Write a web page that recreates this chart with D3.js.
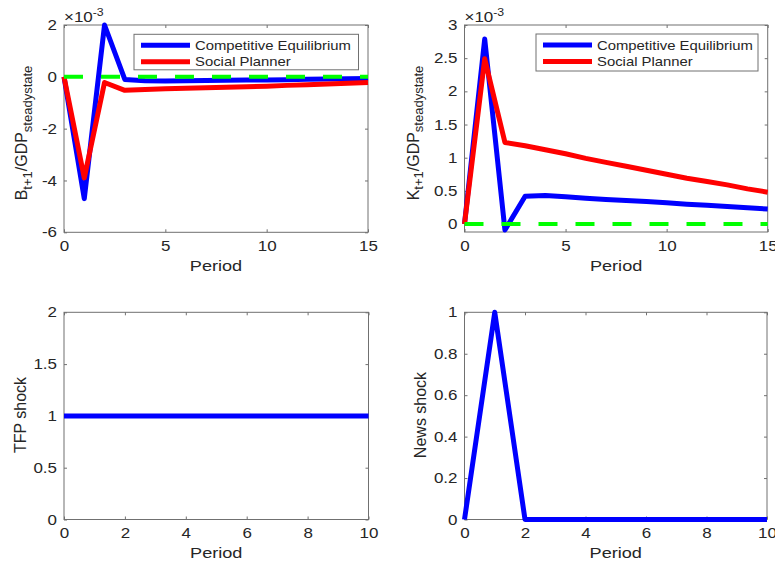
<!DOCTYPE html>
<html lang="en">
<head>
  <meta charset="UTF-8">
  <title>Impulse responses</title>
  <style>
    body { margin: 0; background: #fff; }
    svg { display: block; font-family: "Liberation Sans", Arial, sans-serif; }
    .box { fill: none; stroke: #707070; stroke-width: 1; }
    .tick line { stroke: #707070; }
    .tick text { fill: #262626; }
  </style>
</head>
<body>
  <svg id="chart" width="775" height="564"></svg>
  <script src="https://d3js.org/d3.v7.min.js"></script>
  <script>
    // data (top row in units of 1e-3)
    const periodsLong = [0, 1, 2, 3, 4, 5, 6, 7, 8, 9, 10, 11, 12, 13, 14, 15];
    const periodsShort = [0, 1, 2, 3, 4, 5, 6, 7, 8, 9, 10];

    const bondCE = [0, -4.7, 2.0, -0.1, -0.15, -0.16, -0.15, -0.14, -0.13, -0.12, -0.12, -0.11, -0.09, -0.08, -0.07, -0.06];
    const bondSP = [0, -3.9, -0.22, -0.52, -0.49, -0.46, -0.44, -0.42, -0.4, -0.38, -0.36, -0.33, -0.31, -0.28, -0.25, -0.22];

    const capCE = [0, 2.79, -0.09, 0.42, 0.43, 0.41, 0.39, 0.37, 0.355, 0.34, 0.32, 0.3, 0.285, 0.265, 0.245, 0.225];
    const capSP = [0, 2.49, 1.23, 1.18, 1.12, 1.06, 0.99, 0.93, 0.87, 0.81, 0.75, 0.69, 0.64, 0.59, 0.53, 0.48];

    const zeroLong = [0, 0, 0, 0, 0, 0, 0, 0, 0, 0, 0, 0, 0, 0, 0, 0];

    const tfpShock = [1, 1, 1, 1, 1, 1, 1, 1, 1, 1, 1];
    const newsShock = [0, 1, 0, 0, 0, 0, 0, 0, 0, 0, 0];

    const legendNames = ["Competitive Equilibrium", "Social Planner"];

    const ticksX15 = [0, 5, 10, 15];
    const ticksX10 = [0, 2, 4, 6, 8, 10];
    const ticksBond = [-6, -4, -2, 0, 2];
    const ticksCap = [0, 0.5, 1, 1.5, 2, 2.5, 3];
    const ticksTfp = [0, 0.5, 1, 1.5, 2];
    const ticksNews = [0, 0.2, 0.4, 0.6, 0.8, 1];

    const SX = 1.17; // the original figure was stretched sideways
    const BLUE = "#0000ff", RED = "#ff0000", GREEN = "#00ff00";

    const svg = d3.select("#chart");

    const panels = [
      {
        left: 64, right: 368, top: 25, bottom: 232.3,
        xDomain: [0, 15], yDomain: [-6, 2], xTicks: ticksX15, yTicks: ticksBond,
        x: periodsLong,
        series: [
          { values: bondCE, color: BLUE },
          { values: bondSP, color: RED },
          { values: zeroLong, color: GREEN, dash: "19,18" }
        ],
        legend: { x: 134, y: 34.3, w: 224.5, h: 35.5 },
        exponent: true,
        yLabel: ["B", "t+1", "/GDP", "steadystate"], yLabelX: 27, yLabelY: 133
      },
      {
        left: 464.5, right: 767.7, top: 25, bottom: 232,
        xDomain: [0, 15], yDomain: [-0.12, 3], xTicks: ticksX15, yTicks: ticksCap,
        x: periodsLong,
        series: [
          { values: capCE, color: BLUE },
          { values: capSP, color: RED },
          { values: zeroLong, color: GREEN, dash: "19,18" }
        ],
        legend: { x: 536, y: 34, w: 222, h: 37 },
        exponent: true,
        yLabel: ["K", "t+1", "/GDP", "steadystate"], yLabelX: 418.5, yLabelY: 133
      },
      {
        left: 64, right: 368.5, top: 312.3, bottom: 519.5,
        xDomain: [0, 10], yDomain: [0, 2], xTicks: ticksX10, yTicks: ticksTfp,
        x: periodsShort,
        series: [{ values: tfpShock, color: BLUE }],
        yLabel: ["TFP shock"], yLabelX: 25.5, yLabelY: 415
      },
      {
        left: 464.5, right: 767, top: 312.3, bottom: 519.5,
        xDomain: [0, 10], yDomain: [0, 1], xTicks: ticksX10, yTicks: ticksNews,
        x: periodsShort,
        series: [{ values: newsShock, color: BLUE }],
        yLabel: ["News shock"], yLabelX: 426, yLabelY: 415
      }
    ];

    function stretched(g, x, y, str, size, anchor) {
      return g.append("text")
        .attr("transform", `translate(${x},${y}) scale(${SX},1)`)
        .attr("text-anchor", anchor)
        .attr("font-size", size)
        .attr("fill", "#262626")
        .text(str);
    }

    function styleAxis(g, labels) {
      g.select(".domain").remove();
      g.attr("font-family", null).attr("font-size", 14.5);
      if (!labels) g.selectAll("text").remove();
    }

    panels.forEach(p => {
      const x = d3.scaleLinear().domain(p.xDomain).range([p.left, p.right]);
      const y = d3.scaleLinear().domain(p.yDomain).range([p.bottom, p.top]);
      const g = svg.append("g");

      // ticks point inward on all four sides
      g.append("g")
        .attr("transform", `translate(0,${p.bottom})`)
        .call(d3.axisBottom(x).tickValues(p.xTicks).tickSize(-3).tickSizeOuter(0)
          .tickPadding(8.5).tickFormat(d => String(d)))
        .call(a => styleAxis(a, true))
        .selectAll("text").attr("transform", `scale(${SX},1)`);

      g.append("g")
        .attr("transform", `translate(0,${p.top})`)
        .call(d3.axisTop(x).tickValues(p.xTicks).tickSize(-3).tickSizeOuter(0))
        .call(a => styleAxis(a, false));

      g.append("g")
        .attr("transform", `translate(${p.left},0)`)
        .call(d3.axisLeft(y).tickValues(p.yTicks).tickSize(-3).tickSizeOuter(0)
          .tickFormat(d => String(d)))
        .call(a => styleAxis(a, true))
        .selectAll("text")
          .attr("x", -7 / SX)
          .attr("transform", `scale(${SX},1)`);

      g.append("g")
        .attr("transform", `translate(${p.right},0)`)
        .call(d3.axisRight(y).tickValues(p.yTicks).tickSize(-3).tickSizeOuter(0))
        .call(a => styleAxis(a, false));

      g.append("rect").attr("class", "box")
        .attr("x", p.left).attr("y", p.top)
        .attr("width", p.right - p.left).attr("height", p.bottom - p.top);

      const line = d3.line().x((d, i) => x(p.x[i])).y(d => y(d));
      p.series.forEach(s => {
        g.append("path")
          .datum(s.values)
          .attr("d", line)
          .attr("fill", "none")
          .attr("stroke", s.color)
          .attr("stroke-width", s.dash ? 4 : 5)
          .attr("stroke-linejoin", "round")
          .attr("stroke-dasharray", s.dash || null);
      });

      // x label
      stretched(g, (p.left + p.right) / 2, p.bottom + 38.5, "Period", 15.5, "middle");

      // y label
      const yl = g.append("text")
        .attr("transform", `translate(${p.yLabelX},${p.yLabelY}) rotate(-90)`)
        .attr("text-anchor", "middle")
        .attr("font-size", 16)
        .attr("fill", "#262626");
      if (p.yLabel.length === 1) {
        yl.text(p.yLabel[0]);
      } else {
        yl.append("tspan").text(p.yLabel[0]);
        yl.append("tspan").attr("dy", 4.5).attr("font-size", 13).text(p.yLabel[1]);
        yl.append("tspan").attr("dy", -4.5).text(p.yLabel[2]);
        yl.append("tspan").attr("dy", 4.5).attr("font-size", 13).text(p.yLabel[3]);
      }

      // exponent marker
      if (p.exponent) {
        const ex = stretched(g, p.left, 21.5, "", 14.5, "start");
        ex.append("tspan").text("\u00d710");
        ex.append("tspan").attr("dy", -6).attr("font-size", 10.5).text("-3");
      }

      // legend
      if (p.legend) {
        const L = p.legend;
        const lg = g.append("g");
        lg.append("rect")
          .attr("x", L.x).attr("y", L.y).attr("width", L.w).attr("height", L.h)
          .attr("fill", "#fff").attr("stroke", "#707070").attr("stroke-width", 1);
        legendNames.forEach((name, i) => {
          const ly = L.y + 11 + i * 16.5;
          lg.append("line")
            .attr("x1", L.x + 7).attr("x2", L.x + 56)
            .attr("y1", ly).attr("y2", ly)
            .attr("stroke", p.series[i].color).attr("stroke-width", 5);
          stretched(lg, L.x + 61, ly + 4.5, name, 12.7, "start");
        });
      }
    });
  </script>
</body>
</html>
